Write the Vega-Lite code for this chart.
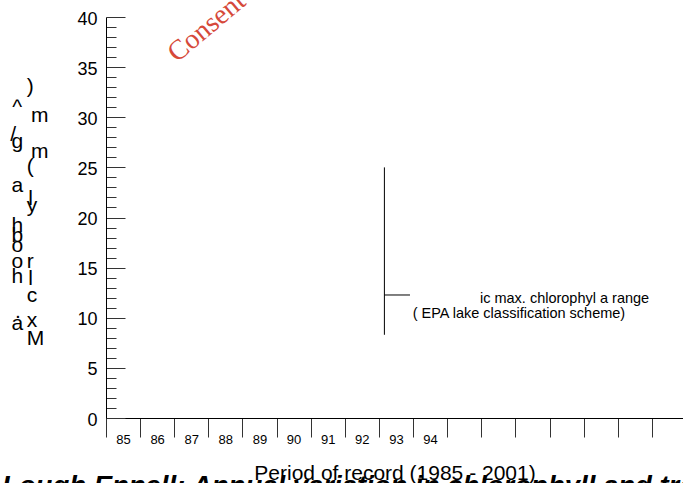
{
  "$schema": "https://vega.github.io/schema/vega-lite/v6.json",
  "width": 577,
  "height": 401,
  "autosize": {"type": "none"},
  "padding": {"left": 106, "top": 17, "right": 0, "bottom": 65},
  "background": "white",
  "config": {"view": {"stroke": null}, "font": "Liberation Sans", "axis": {"grid": false}},
  "title": {
    "text": "Lough Ennell: Annual variation in chlorophyll and trophic status",
    "orient": "bottom", "anchor": "start", "frame": "group", "dx": -104, "offset": -10,
    "font": "Liberation Sans", "fontSize": 27.5, "fontWeight": "bold", "fontStyle": "italic", "color": "black"
  },
  "datasets": {
    "range": [{"x": 1993.16, "y": 8.3, "y2": 25.0}],
    "tick": [{"x": 1993.16, "x2": 1993.91, "y": 12.27}],
    "notes": [
      {"x": 1995.96, "y": 11.5, "label": "ic max. chlorophyl a range"},
      {"x": 1993.99, "y": 9.95, "label": "( EPA lake classification scheme)"}
    ],
    "watermark": [{"x": 1987.08, "y": 35.4, "label": "Consent of copyright owner required for any other use."}],
    "ytitle": [
      {"x": 1982.25, "y": 30.32, "label": "^"},
      {"x": 1982.19, "y": 27.63, "label": "/"},
      {"x": 1982.23, "y": 26.93, "label": "g"},
      {"x": 1982.23, "y": 22.54, "label": "a"},
      {"x": 1982.23, "y": 18.55, "label": "h"},
      {"x": 1982.23, "y": 17.56, "label": "b"},
      {"x": 1982.23, "y": 16.56, "label": "o"},
      {"x": 1982.23, "y": 14.96, "label": "o"},
      {"x": 1982.23, "y": 13.47, "label": "h"},
      {"x": 1982.33, "y": 9.98, "label": "."},
      {"x": 1982.23, "y": 8.78, "label": "a"},
      {"x": 1982.68, "y": 32.42, "label": ")"},
      {"x": 1982.80, "y": 29.53, "label": "m"},
      {"x": 1982.80, "y": 25.94, "label": "m"},
      {"x": 1982.68, "y": 24.44, "label": "("},
      {"x": 1982.72, "y": 21.25, "label": "l"},
      {"x": 1982.68, "y": 20.55, "label": "y"},
      {"x": 1982.68, "y": 14.96, "label": "r"},
      {"x": 1982.72, "y": 13.27, "label": "l"},
      {"x": 1982.68, "y": 11.57, "label": "c"},
      {"x": 1982.68, "y": 9.08, "label": "x"},
      {"x": 1982.68, "y": 7.28, "label": "M"}
    ]
  },
  "encoding": {
    "x": {
      "field": "x", "type": "quantitative",
      "scale": {"domain": [1985, 2001.912], "nice": false, "zero": false},
      "axis": {
        "values": [1985, 1986, 1987, 1988, 1989, 1990, 1991, 1992, 1993, 1994, 1995, 1996, 1997, 1998, 1999, 2000, 2001],
        "tickSize": 19, "tickColor": "#333", "tickWidth": 1,
        "domainColor": "black", "domainWidth": 1,
        "labelExpr": "datum.value <= 1994 ? '' + (datum.value - 1900) : ''",
        "labelOffset": 17, "labelPadding": -4, "labelFontSize": 13, "labelColor": "black",
        "labelFlush": false, "labelOverlap": false, "labelBound": false,
        "title": "Period of record (1985 - 2001)", "titleFontSize": 21, "titleFontWeight": "normal",
        "titleColor": "black", "titlePadding": 16
      }
    },
    "y": {
      "field": "y", "type": "quantitative",
      "scale": {"domain": [0, 40], "nice": false, "zero": false},
      "axis": {
        "values": [0,1,2,3,4,5,6,7,8,9,10,11,12,13,14,15,16,17,18,19,20,21,22,23,24,25,26,27,28,29,30,31,32,33,34,35,36,37,38,39,40],
        "tickSize": {"condition": {"test": "datum.value % 5 === 0", "value": -19}, "value": -10},
        "tickColor": "#333", "tickWidth": 1,
        "domainColor": "black", "domainWidth": 1,
        "labelExpr": "datum.value % 5 === 0 ? '' + datum.value : ''",
        "labelPadding": 28, "labelFontSize": 18, "labelOffset": 2, "labelColor": "black",
        "labelOverlap": false, "labelFlush": false, "labelBound": false,
        "title": null
      }
    }
  },
  "layer": [
    {
      "data": {"name": "range"},
      "mark": {"type": "rule", "color": "black", "strokeWidth": 1},
      "encoding": {"y2": {"field": "y2"}}
    },
    {
      "data": {"name": "tick"},
      "mark": {"type": "rule", "color": "black", "strokeWidth": 1},
      "encoding": {"x2": {"field": "x2"}}
    },
    {
      "data": {"name": "notes"},
      "mark": {"type": "text", "align": "left", "baseline": "alphabetic", "fontSize": 14.5, "color": "black", "font": "Liberation Sans"},
      "encoding": {"text": {"field": "label"}}
    },
    {
      "data": {"name": "watermark"},
      "mark": {"type": "text", "align": "left", "baseline": "alphabetic", "angle": 320, "fontSize": 28, "color": "#d6493a", "font": "Liberation Serif"},
      "encoding": {"text": {"field": "label"}}
    },
    {
      "data": {"name": "ytitle"},
      "mark": {"type": "text", "align": "left", "baseline": "alphabetic", "fontSize": 21, "color": "black", "font": "Liberation Sans"},
      "encoding": {"text": {"field": "label"}}
    }
  ]
}
